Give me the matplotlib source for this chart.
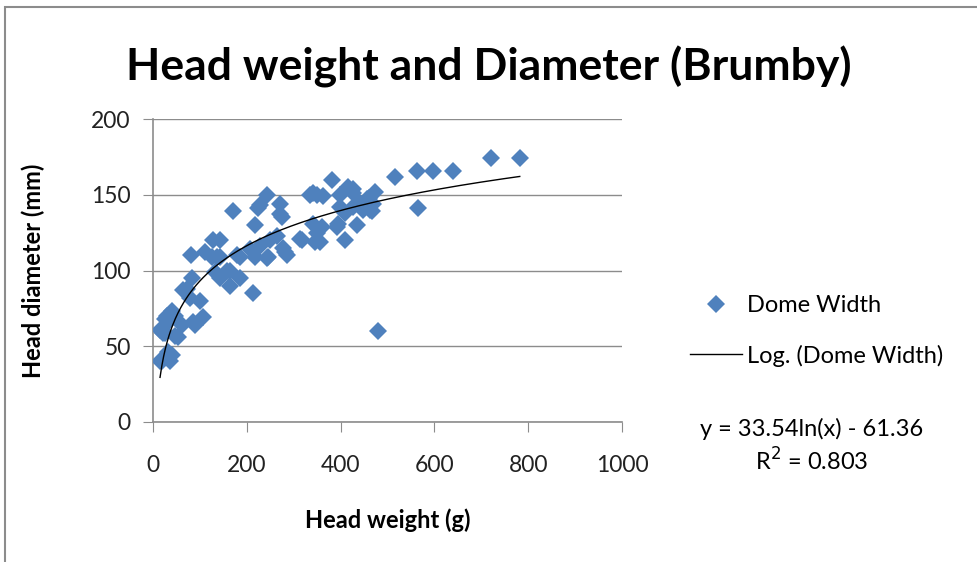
import numpy as np
import matplotlib
matplotlib.use("Agg")
import matplotlib.pyplot as plt
from matplotlib.lines import Line2D
from matplotlib.patches import Rectangle

plt.rcParams['font.family'] = ['Lato', 'DejaVu Sans']

head_weight = [
    15, 21, 32, 40, 19, 36, 47, 62, 32, 47, 90, 107, 100, 79, 72, 83, 80, 15, 40,
    26, 53, 85, 64, 143, 164, 186, 213, 132, 158,
    171, 243, 228, 271, 271, 217, 128, 143, 111, 143, 179, 207, 228, 250, 264,
    277, 243, 164, 313, 341, 341, 350, 126, 136, 186, 218, 245, 286, 224, 275,
    516, 563, 597, 640, 565, 382, 416, 426, 456, 473, 399, 399, 426, 448, 469,
    467, 363, 360, 392, 435, 409, 356, 480, 720, 782, 281, 318, 345, 395, 462,
    426, 350, 335, 460, 440, 410, 30, 25,
]
head_diameter = [
    61, 59, 66, 73, 40, 40, 57, 64, 46, 70, 64, 69, 80, 82, 88, 95, 110, 40, 44,
    59, 56, 66, 87, 95, 90, 95, 85, 99, 100,
    139, 150, 143, 144, 137, 130, 120, 120, 112, 109, 110, 114, 116, 120, 123,
    115, 108, 100, 121, 151, 131, 125, 109, 109, 109, 109, 109, 110, 141, 135,
    162, 166, 166, 166, 141, 160, 155, 151, 147, 152, 150, 142, 142, 140, 144,
    139, 149, 129, 129, 130, 120, 119, 60, 174, 174, 112, 120, 119, 131, 140,
    154, 150, 150, 148, 145, 138, 70, 68,
]

fit_a = 33.54
fit_b = -61.36
r_squared = 0.803

x_ticks = [0, 200, 400, 600, 800, 1000]
y_ticks = [0, 50, 100, 150, 200]

fig = plt.figure(figsize=(9.77, 5.62), dpi=100)
ax = fig.add_axes([153/977, 140/562, 469/977, 303/562])

# outer chart border
fig.patches.append(Rectangle((5/977, -0.1), 1.2, (562-7)/562 + 0.1,
                             transform=fig.transFigure, fill=False,
                             edgecolor='#8c8c8c', linewidth=1.5))

ax.grid(axis='y', color='#8c8c8c', linewidth=1.0)
ax.set_axisbelow(True)

ax.plot(head_weight, head_diameter, linestyle='none', marker='D',
        markersize=9, color='#4F81BD', markeredgewidth=0, zorder=3)

xs = np.linspace(min(head_weight), max(head_weight), 400)
ax.plot(xs, fit_a * np.log(xs) + fit_b, color='black', linewidth=1.0, zorder=4)

ax.set_xlim(0, 1000)
ax.set_ylim(0, 200)
ax.set_xticks(x_ticks)
ax.set_yticks(y_ticks)
ax.tick_params(axis='both', direction='out', length=7, color='#8c8c8c',
               labelsize=16.5, labelcolor='#222222')
ax.tick_params(axis='x', pad=17)
ax.tick_params(axis='y', pad=9)
for s in ['top', 'right']:
    ax.spines[s].set_visible(False)
for s in ['left', 'bottom']:
    ax.spines[s].set_color('#8c8c8c')
    ax.spines[s].set_linewidth(1.2)

ax.set_xlabel('Head weight (g)', fontsize=17, fontweight='bold', labelpad=23)
ax.set_ylabel('Head diameter (mm)', fontsize=17, fontweight='bold', labelpad=33)

fig.text(489/977, 1 - 67/562, 'Head weight and Diameter (Brumby)',
         ha='center', va='center', fontsize=32, fontweight='bold')

# legend
handles = [
    Line2D([], [], linestyle='none', marker='D', markersize=9,
           color='#4F81BD', markeredgewidth=0),
    Line2D([], [], color='black', linewidth=1.0),
]
fig.legend(handles, ['Dome Width', 'Log. (Dome Width)'],
           loc='center left', bbox_to_anchor=(690/977, 1 - 331/562),
           frameon=False, fontsize=17, handlelength=2.2, borderpad=0,
           borderaxespad=0, handletextpad=0.2, labelspacing=1.2)

fig.text(812/977, 1 - 429/562, f'y = {fit_a}ln(x) - {abs(fit_b)}',
         ha='center', va='center', fontsize=17)
fig.text(812/977, 1 - 461/562, f'R$^2$ = {r_squared}',
         ha='center', va='center', fontsize=17)

fig.savefig('out.png', dpi=100)
